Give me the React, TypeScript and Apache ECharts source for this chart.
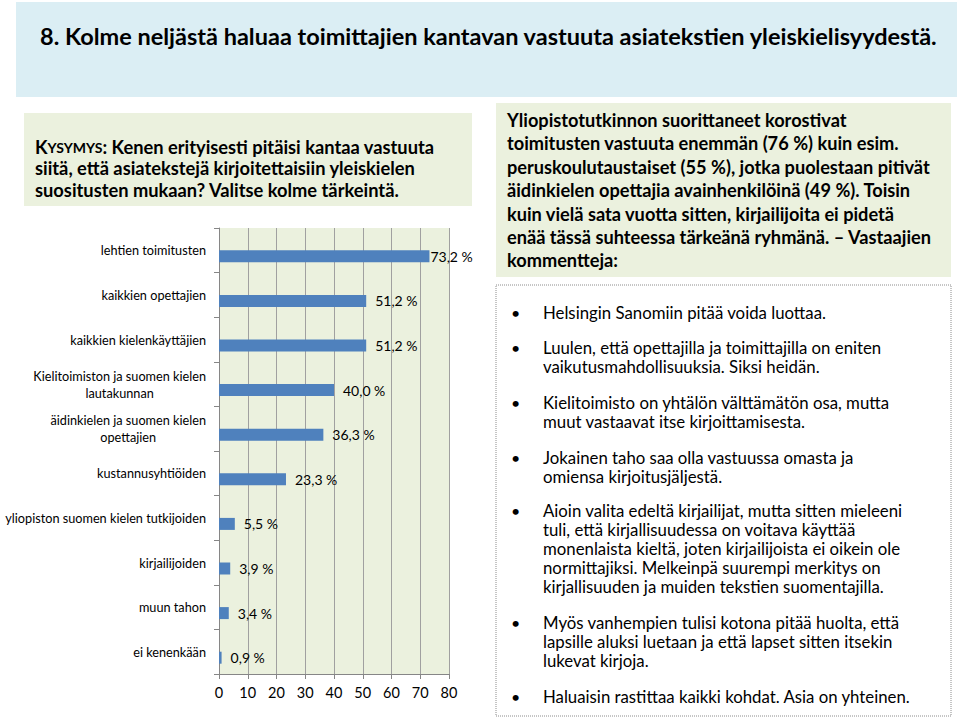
import React, { useEffect, useRef } from 'react';
import * as echarts from 'echarts';

const categories = [
  'lehtien toimitusten',
  'kaikkien opettajien',
  'kaikkien kielenkäyttäjien',
  'Kielitoimiston ja suomen kielen\nlautakunnan',
  'äidinkielen ja suomen kielen\nopettajien',
  'kustannusyhtiöiden',
  'yliopiston suomen kielen tutkijoiden',
  'kirjailijoiden',
  'muun tahon',
  'ei kenenkään',
];
const values = [73.2, 51.2, 51.2, 40.0, 36.3, 23.3, 5.5, 3.9, 3.4, 0.9];
const xMin = 0;
const xMax = 80;
const xStep = 10;

const titleText = '8. Kolme neljästä haluaa toimittajien kantavan vastuuta asiatekstien yleiskielisyydestä.';
const questionLines = [
  ': Kenen erityisesti pitäisi kantaa vastuuta',
  'siitä, että asiatekstejä kirjoitettaisiin yleiskielen',
  'suositusten mukaan? Valitse kolme tärkeintä.',
];
const noteLines = [
  'Yliopistotutkinnon suorittaneet korostivat',
  'toimitusten vastuuta enemmän (76 %) kuin esim.',
  'peruskoulutaustaiset (55 %), jotka puolestaan pitivät',
  'äidinkielen opettajia avainhenkilöinä (49 %). Toisin',
  'kuin vielä sata vuotta sitten, kirjailijoita ei pidetä',
  'enää tässä suhteessa tärkeänä ryhmänä. – Vastaajien',
  'kommentteja:',
];
const comments = [
  ['Helsingin Sanomiin pitää voida luottaa.'],
  ['Luulen, että opettajilla ja toimittajilla on eniten', 'vaikutusmahdollisuuksia. Siksi heidän.'],
  ['Kielitoimisto on yhtälön välttämätön osa, mutta', 'muut vastaavat itse kirjoittamisesta.'],
  ['Jokainen taho saa olla vastuussa omasta ja', 'omiensa kirjoitusjäljestä.'],
  [
    'Aioin valita edeltä kirjailijat, mutta sitten mieleeni',
    'tuli, että kirjallisuudessa on voitava käyttää',
    'monenlaista kieltä, joten kirjailijoista ei oikein ole',
    'normittajiksi. Melkeinpä suurempi merkitys on',
    'kirjallisuuden ja muiden tekstien suomentajilla.',
  ],
  [
    'Myös vanhempien tulisi kotona pitää huolta, että',
    'lapsille aluksi luetaan ja että lapset sitten itsekin',
    'lukevat kirjoja.',
  ],
  ['Haluaisin rastittaa kaikki kohdat. Asia on yhteinen.'],
];
const commentStartY = [312, 347, 402, 457, 510, 622, 696];

const FONT = 'Lato, "Open Sans", sans-serif';

export default function App() {
  const ref = useRef<HTMLDivElement>(null);

  useEffect(() => {
    if (!ref.current) return;
    const chart = echarts.init(ref.current, null, { renderer: 'svg' });

    const commentLH = 19;
    const graphics: any[] = [
      { type: 'rect', shape: { x: 16, y: 2, width: 941, height: 95 }, style: { fill: '#DBEEF4' }, z: -10 },
      {
        type: 'text',
        style: { x: 40, y: 36, text: titleText, fontFamily: FONT, fontWeight: 'bold', fontSize: 23.5, fill: '#000', verticalAlign: 'middle' },
      },
      { type: 'rect', shape: { x: 24, y: 113, width: 448, height: 93 }, style: { fill: '#EBF1DE' }, z: -10 },
      {
        type: 'text',
        style: {
          x: 35,
          y: 147,
          text: '{k|K}{s|YSYMYS}{n|' + questionLines[0] + '}',
          verticalAlign: 'middle',
          rich: {
            k: { fontFamily: FONT, fontWeight: 'bold', fontSize: 18.3, fill: '#000' },
            s: { fontFamily: FONT, fontWeight: 'bold', fontSize: 14, fill: '#000' },
            n: { fontFamily: FONT, fontWeight: 'bold', fontSize: 18.3, fill: '#000' },
          },
        },
      },
      ...questionLines.slice(1).map((t, i) => ({
        type: 'text',
        style: { x: 35, y: 168 + i * 22, text: t, fontFamily: FONT, fontWeight: 'bold', fontSize: 18.3, fill: '#000', verticalAlign: 'middle' },
      })),
      { type: 'rect', shape: { x: 496, y: 103, width: 455, height: 174 }, style: { fill: '#EBF1DE' }, z: -10 },
      ...noteLines.map((t, i) => ({
        type: 'text',
        style: { x: 507, y: 120 + i * 23.4, text: t, fontFamily: FONT, fontWeight: 'bold', fontSize: 18.2, fill: '#000', verticalAlign: 'middle' },
      })),
      {
        type: 'rect',
        shape: { x: 496, y: 285, width: 455, height: 431 },
        style: { fill: '#fff', stroke: '#8c8c8c', lineWidth: 1, lineDash: [1, 1] },
        z: -10,
      },
    ];
    comments.forEach((lines, i) => {
      const y0 = commentStartY[i];
      graphics.push({
        type: 'text',
        style: { x: 511, y: y0, text: '•', fontFamily: FONT, fontSize: 16, fill: '#000', verticalAlign: 'middle' },
      });
      graphics.push({
        type: 'text',
        style: {
          x: 543,
          y: y0 - commentLH / 2,
          text: lines.join('\n'),
          fontFamily: FONT,
          fontSize: 16.8,
          lineHeight: commentLH,
          fill: '#000',
          verticalAlign: 'top',
        },
      });
    });

    const option: any = {
      animation: false,
      backgroundColor: '#fff',
      grid: {
        left: 219,
        right: 960 - 449,
        top: 228,
        bottom: 726 - 674,
        outerBoundsMode: 'none',
        containLabel: false,
        show: true,
        backgroundColor: '#EBF1DE',
        borderWidth: 0,
      },
      xAxis: {
        type: 'value',
        min: xMin,
        max: xMax,
        interval: xStep,
        axisLine: { show: true, lineStyle: { color: '#868686' } },
        axisTick: { show: true, length: 5, lineStyle: { color: '#868686' } },
        axisLabel: { fontFamily: FONT, fontSize: 14.5, color: '#000', margin: 11 },
        splitLine: { show: true, lineStyle: { color: '#A0A0A0', width: 1 } },
      },
      yAxis: {
        type: 'category',
        inverse: true,
        data: categories,
        axisLine: { show: true, lineStyle: { color: '#868686' } },
        axisTick: { show: true, length: 5, lineStyle: { color: '#868686' } },
        axisLabel: {
          margin: 13,
          color: '#000',
          fontFamily: FONT,
          fontSize: 12.7,
          lineHeight: 17,
          formatter: (v: string) =>
            v.indexOf('\n') >= 0 ? v.split('\n').map((l) => '{c|' + l + '}').join('\n') : v,
          rich: {
            c: { align: 'center', fontFamily: FONT, fontSize: 12.7, color: '#000', lineHeight: 17 },
          },
        },
        splitLine: { show: false },
      },
      series: [
        {
          type: 'bar',
          data: values.map(() => '-'),
          barWidth: 12,
          barGap: '0%',
          silent: true,
        },
        {
          type: 'bar',
          data: values.map((v, i) => (i === 0 ? { value: v, label: { distance: 1 } } : v)),
          barWidth: 12,
          barGap: '0%',
          itemStyle: { color: '#4F81BD' },
          label: {
            show: true,
            position: 'right',
            distance: 9,
            fontFamily: FONT,
            fontSize: 14,
            color: '#000',
            formatter: (p: any) => Number(p.value).toFixed(1).replace('.', ',') + ' %',
          },
        },
      ],
      graphic: graphics,
    };

    chart.setOption(option);
    return () => chart.dispose();
  }, []);

  return (
    <div
      ref={ref}
      style={{ position: 'fixed', left: 0, top: 0, width: 960, height: 726, background: '#fff' }}
    />
  );
}
